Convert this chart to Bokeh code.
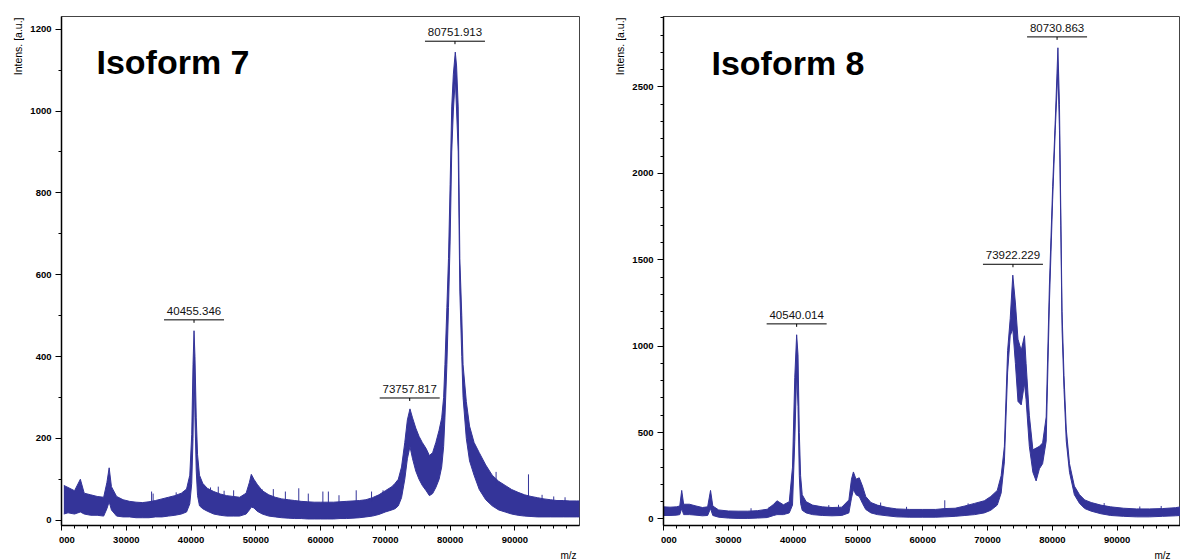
from bokeh.plotting import figure
from bokeh.models import (Range1d, SingleIntervalTicker, Label, LabelSet, ColumnDataSource,
                          Title, CustomJSTickFormatter, BasicTickFormatter)
from bokeh.layouts import row
from bokeh.embed import file_html
from bokeh.resources import INLINE
from bokeh.core.properties import value

# ---------------- data: Isoform 7 (mass, lower / upper envelope of the noisy trace)
iso7_mass = [20350, 21000, 22000, 22900, 23500, 24500, 25500, 26500, 27000, 27350,
             27700, 28500, 29500, 30500, 31500, 32500, 33500, 34500, 35500, 36500,
             37500, 38500, 39300, 39800, 40100, 40300, 40455, 40600, 40800, 41000,
             41300, 41800, 42500, 43500, 44500, 45500, 46500, 47500, 48500, 49000,
             49300, 49700, 50200, 51000, 52000, 53000, 54000, 55000, 56000, 57000,
             58000, 59000, 60000, 61000, 62000, 63000, 64000, 65000, 66000, 67000,
             68000, 69000, 70000, 71000, 71500, 72000, 72500, 73000, 73400, 73800,
             74200, 74700, 75200, 75700, 76300, 76800, 77300, 77800, 78300, 78700,
             79000, 79200, 79500, 79750, 80000, 80250, 80500, 80800, 81000, 81250,
             81500, 81800, 82000, 82500, 83000, 83700, 84500, 85500, 86500, 87500,
             88500, 89500, 90500, 91500, 92500, 93500, 94500, 95500, 96500, 97500,
             98500, 99500, 100050]
iso7_low = [15, 18, 15, 20, 15, 12, 12, 10, 28, 45,
            25, 10, 8, 8, 6, 6, 6, 8, 8, 10,
            12, 15, 20, 40, 90, 200, 380, 250, 120, 60,
            35, 28, 22, 15, 12, 10, 10, 10, 15, 25,
            32, 30, 22, 15, 10, 8, 6, 5, 4, 4,
            3, 3, 3, 3, 3, 4, 4, 5, 6, 8,
            10, 14, 20, 25, 28, 35, 55, 100, 150, 180,
            150, 120, 100, 85, 72, 60, 65, 80, 100, 130,
            180, 250, 380, 520, 680, 900, 1000, 1080, 1000, 900,
            560, 400, 300, 200, 145, 110, 75, 50, 35, 25,
            20, 15, 12, 10, 9, 8, 8, 8, 8, 8,
            8, 8, 8]
iso7_high = [85, 80, 72, 100, 66, 62, 58, 56, 92, 128,
             82, 58, 50, 46, 44, 43, 45, 48, 52, 56,
             60, 66, 76, 110, 210, 380, 463, 400, 250, 160,
             110, 90, 78, 70, 64, 60, 58, 56, 66, 92,
             112, 100, 88, 72, 62, 56, 52, 50, 48, 46,
             45, 44, 44, 44, 44, 45, 46, 47, 48, 50,
             55, 62, 72, 82, 90, 100, 130, 190, 245, 272,
             250, 225, 205, 190, 175, 158, 165, 190, 220, 250,
             300, 380, 520, 640, 820, 1010, 1090, 1144, 1110, 1010,
             640, 500, 380, 290, 230, 190, 165, 135, 110, 95,
             85, 75, 68, 62, 58, 55, 52, 50, 48, 48,
             47, 47, 47]
iso7_spike_mass = [33900, 34140, 37700, 43000, 44200, 45100, 46570, 51000, 52700, 54560,
                   56630, 58100, 60350, 61200, 62840, 65500, 67870, 69640, 87100, 92100,
                   94200, 96000, 97750]
iso7_spike_base = [40, 40, 55, 65, 60, 55, 52, 65, 52, 48,
                   45, 42, 40, 40, 40, 42, 45, 55, 85, 55,
                   48, 45, 45]
iso7_spike_top = [70, 65, 68, 80, 82, 72, 73, 75, 76, 70,
                  78, 65, 70, 70, 61, 73, 70, 73, 118, 112,
                  62, 58, 56]
iso7_peak_mass = [40455.346, 73757.817, 80751.913]
iso7_peak_int = [463, 272, 1144]
iso7_peak_text = ["40455.346", "73757.817", "80751.913"]

# ---------------- data: Isoform 8
iso8_mass = [20010, 21000, 22000, 22500, 22800, 23100, 24000, 25000, 26000, 26800,
             27250, 27600, 28500, 30000, 31500, 33000, 34500, 36000, 37000, 37500,
             38500, 39400, 39900, 40250, 40540, 40750, 40950, 41150, 41400, 42000,
             43000, 44500, 46000, 47500, 48600, 49000, 49300, 49700, 50200, 50700,
             51200, 52000, 53000, 54500, 56000, 58000, 60000, 62000, 63400, 65000,
             66500, 68000, 69500, 70500, 71500, 72100, 72600, 73100, 73500, 73900,
             74300, 74700, 75200, 75700, 75950, 76450, 77000, 77500, 78000, 78500,
             79050, 79550, 80050, 80450, 80860, 81100, 81300, 81500, 81800, 82150,
             82650, 83400, 84200, 85000, 86000, 87500, 89000, 91000, 93000, 95000,
             97000, 99000, 99780]
iso8_low = [20, 20, 22, 25, 60, 25, 25, 22, 18, 20,
            60, 20, 10, 5, 3, 3, 5, 8, 20, 25,
            25, 35, 80, 450, 850, 650, 250, 90, 50, 35,
            25, 20, 18, 20, 35, 120, 170, 140, 130, 90,
            55, 35, 25, 18, 12, 10, 10, 10, 12, 15,
            20, 25, 35, 50, 80, 150, 330, 850, 1060, 1100,
            900, 680, 660, 785, 690, 420, 270, 220, 290, 320,
            450, 1250, 1850, 2250, 2600, 2250, 1700, 1100, 750, 450,
            270, 140, 90, 60, 45, 30, 20, 15, 12, 12,
            15, 18, 20]
iso8_high = [70, 68, 70, 75, 165, 85, 85, 75, 66, 70,
             165, 75, 52, 46, 45, 45, 48, 56, 85, 105,
             82, 100, 300, 820, 1066, 950, 500, 250, 140, 100,
             80, 70, 66, 68, 110, 230, 272, 230, 238, 190,
             130, 95, 80, 66, 58, 55, 55, 55, 60, 62,
             75, 90, 105, 130, 165, 250, 420, 975, 1160, 1411,
             1250, 1040, 975, 1060, 900, 600, 400, 410, 420, 440,
             590, 1354, 1925, 2305, 2727, 2400, 1800, 1200, 830, 520,
             320, 190, 140, 110, 95, 80, 70, 62, 58, 58,
             60, 65, 70]
iso8_spike_mass = [33500, 36300, 45500, 47000, 53500, 57500, 63400, 67000, 88000, 93500,
                   96800]
iso8_spike_base = [40, 45, 55, 55, 70, 50, 50, 65, 70, 55,
                   55]
iso8_spike_top = [62, 70, 80, 82, 95, 70, 108, 90, 92, 72,
                  75]
iso8_peak_mass = [40540.014, 73922.229, 80730.863]
iso8_peak_int = [1066, 1411, 2727]
iso8_peak_text = ["40540.014", "73922.229", "80730.863"]

TRACE = "#343499"
FONT = "Liberation Sans"
H = 560

# the leftmost tick label is cut by the frame edge in the original: only "000" shows
x_formatter_code = """
if (tick <= 20000) { return "\\u00a0\\u00a0\\u00a0\\u00a0000"; }
return tick.toFixed(0);
"""


def make_panel(mass, low, high, sp_m, sp_b, sp_t, pk_m, pk_i, pk_t, title,
               xr, yr, y_interval, y_minor, width, b_left, b_right, b_top,
               frame_w, frame_h, title_dx, title_dy, mz_offset):
    p = figure(width=width, height=H, x_range=Range1d(*xr), y_range=Range1d(*yr),
               min_border_left=b_left, min_border_right=b_right, min_border_top=b_top,
               min_border_bottom=H - b_top - frame_h,
               toolbar_location=None, output_backend="svg", title=None)
    p.grid.visible = False
    p.background_fill_color = "white"
    p.border_fill_color = "white"
    p.outline_line_color = "#444444"
    p.outline_line_width = 1

    p.xaxis.ticker = SingleIntervalTicker(interval=10000, num_minor_ticks=5)
    p.xaxis.formatter = CustomJSTickFormatter(code=x_formatter_code)
    p.yaxis.ticker = SingleIntervalTicker(interval=y_interval, num_minor_ticks=y_minor)
    p.yaxis.formatter = BasicTickFormatter(use_scientific=False)
    for ax in (p.xaxis, p.yaxis):
        ax.axis_line_color = "black"
        ax.axis_line_width = 1.5
        ax.major_tick_line_color = "black"
        ax.minor_tick_line_color = "black"
        ax.major_tick_in = 0
        ax.minor_tick_in = 0
        ax.major_label_text_font = FONT
        ax.major_label_text_font_size = "9.5px"
        ax.major_label_text_font_style = "bold"
        ax.major_label_text_color = "black"
    p.xaxis.major_tick_out = 5
    p.xaxis.minor_tick_out = 3
    p.xaxis.major_label_standoff = 3
    p.yaxis.major_tick_out = 6
    p.yaxis.minor_tick_out = 3
    p.yaxis.major_label_standoff = 4

    # spectrum trace
    p.varea(x=mass, y1=low, y2=high, fill_color=TRACE, fill_alpha=1)
    p.line(mass, high, line_color=TRACE, line_width=1)
    p.line(mass, low, line_color=TRACE, line_width=1)
    p.segment(x0=sp_m, y0=sp_b, x1=sp_m, y1=sp_t, line_color=TRACE, line_width=1)

    # peak annotations
    xs = frame_w / (xr[1] - xr[0])
    ys = frame_h / (yr[1] - yr[0])
    bar_y = [v + 11 / ys for v in pk_i]
    p.segment(x0=[m - 30 / xs for m in pk_m], y0=bar_y, x1=[m + 30 / xs for m in pk_m],
              y1=bar_y, line_color="black", line_width=1)
    p.segment(x0=pk_m, y0=bar_y, x1=pk_m, y1=[b - 3 / ys for b in bar_y],
              line_color="black", line_width=1)
    src = ColumnDataSource(dict(x=pk_m, y=pk_i, t=pk_t))
    p.add_layout(LabelSet(x="x", y="y", text="t", source=src, y_offset=16,
                          text_align="center", text_baseline="alphabetic",
                          text_font=value(FONT), text_font_size=value("11.5px"),
                          text_color="#111111"))

    # big title inside the frame
    p.add_layout(Label(x=xr[0], y=yr[1], x_offset=title_dx, y_offset=-title_dy, text=title,
                       text_font=FONT, text_font_size="34px", text_font_style="bold",
                       text_color="black", text_baseline="alphabetic", text_align="left"))
    # axis captions (side panels, so they are not clipped by the frame)
    p.add_layout(Title(text="Intens. [a.u.]", align="right", offset=1, standoff=7,
                       text_font=FONT, text_font_size="10.5px", text_font_style="normal",
                       text_color="black"), "left")
    p.add_layout(Title(text="m/z", align="right", offset=mz_offset, standoff=0,
                       text_font=FONT, text_font_size="10px", text_font_style="normal",
                       text_color="black"), "below")
    return p


p1 = make_panel(iso7_mass, iso7_low, iso7_high, iso7_spike_mass, iso7_spike_base,
                iso7_spike_top, iso7_peak_mass, iso7_peak_int, iso7_peak_text, "Isoform 7",
                (19990, 99980), (-13, 1231), 200, 2, 608, 61, 29, 16, 518, 514, 35, 45, 3)
p2 = make_panel(iso8_mass, iso8_low, iso8_high, iso8_spike_mass, iso8_spike_base,
                iso8_spike_top, iso8_peak_mass, iso8_peak_int, iso8_peak_text, "Isoform 8",
                (19990, 99780), (-38, 2908), 500, 5, 572, 55, 0, 15, 517, 515, 48, 46, 10)

layout = row(p1, p2)
open("out.html", "w").write(file_html(layout, INLINE))
